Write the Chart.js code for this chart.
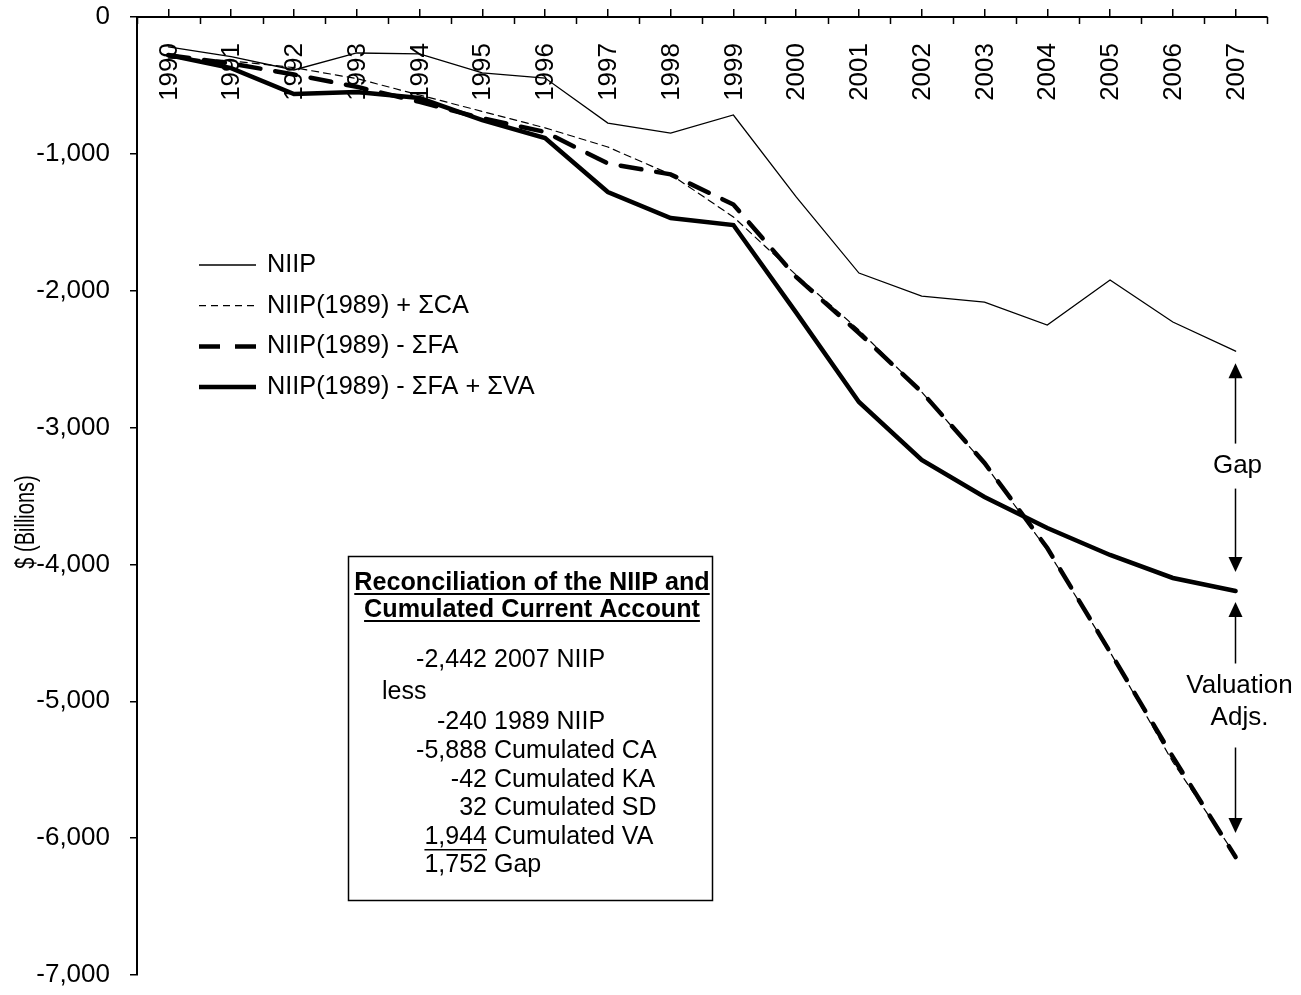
<!DOCTYPE html>
<html>
<head>
<meta charset="utf-8">
<script src="https://cdn.jsdelivr.net/npm/chart.js@4.4.1/dist/chart.umd.min.js"></script>
<style>
  html, body { margin: 0; padding: 0; background: #fff; }
  #wrap { width: 1301px; height: 995px; }
</style>
</head>
<body>
<div id="wrap"><canvas id="niipChart" width="1301" height="995"></canvas></div>
<script>
// Data ($ billions)
const years = ['1990', '1991', '1992', '1993', '1994', '1995', '1996', '1997', '1998',
               '1999', '2000', '2001', '2002', '2003', '2004', '2005', '2006', '2007'];
const niip = [-219, -290, -387, -263, -270, -409, -446, -775, -848,
              -716, -1315, -1871, -2039, -2083, -2251, -1922, -2229, -2442];
const niipPlusCA = [-300, -320, -370, -450, -570, -690, -810, -950, -1150,
                    -1461, -1885, -2287, -2740, -3266, -3895, -4640, -5444, -6128];
const niipMinusFA = [-280, -340, -420, -510, -620, -740, -840, -1070, -1150,
                     -1370, -1900, -2309, -2740, -3259, -3880, -4640, -5407, -6138];
const niipMinusFAPlusVA = [-278, -373, -563, -548, -592, -753, -884, -1279, -1469,
                           -1520, -2160, -2813, -3237, -3507, -3734, -3931, -4099, -4194];

const seriesLabels = ['NIIP', 'NIIP(1989) + \u03A3CA', 'NIIP(1989) - \u03A3FA', 'NIIP(1989) - \u03A3FA + \u03A3VA'];
const yMin = -7000, yMax = 0, yStep = 1000;

const reconTitle = ['Reconciliation of the NIIP and', 'Cumulated Current Account'];
const reconValues = [-2442, null, -240, -5888, -42, 32, 1944, 1752];
const reconLabels = ['2007 NIIP', 'less', '1989 NIIP', 'Cumulated CA', 'Cumulated KA',
                     'Cumulated SD', 'Cumulated VA', 'Gap'];

const gapLabel = ['Gap'];
const vaLabel = ['Valuation', 'Adjs.'];
const yTitle = '$ (Billions)';

const FONT = 'Arial, "Liberation Sans", sans-serif';
const fmt = v => v.toLocaleString('en-US');

const overlay = {
    id: 'overlay',
    afterDraw(chart) {
        const { ctx, chartArea, scales: { x, y } } = chart;
        ctx.save();
        ctx.fillStyle = '#000';
        ctx.strokeStyle = '#000';

        // inner half of the crossing ticks on the top axis
        ctx.lineWidth = 1.5;
        ctx.beginPath();
        for (let i = 0; i <= years.length; i++) {
            const px = Math.round(x.getPixelForValue(i - 0.5)) + 0.5;
            ctx.moveTo(px, chartArea.top);
            ctx.lineTo(px, chartArea.top + 7);
        }
        ctx.stroke();

        // rotated year labels under the axis line
        ctx.font = `26px ${FONT}`;
        ctx.textAlign = 'right';
        ctx.textBaseline = 'middle';
        years.forEach((yr, i) => {
            ctx.save();
            ctx.translate(x.getPixelForValue(i) + 1, chartArea.top + 26);
            ctx.rotate(-Math.PI / 2);
            ctx.fillText(yr, 0, 0);
            ctx.restore();
        });

        // y axis title (narrow)
        ctx.save();
        ctx.translate(27, 522);
        ctx.rotate(-Math.PI / 2);
        ctx.scale(0.74, 1);
        ctx.textAlign = 'center';
        ctx.font = `27px ${FONT}`;
        ctx.fillText(yTitle, 0, 0);
        ctx.restore();

        // legend
        chart.data.datasets.forEach((ds, i) => {
            const ly = 265 + i * 40.7;
            ctx.save();
            ctx.lineWidth = ds.borderWidth;
            ctx.setLineDash(ds.borderDash || []);
            ctx.beginPath();
            ctx.moveTo(199, ly);
            ctx.lineTo(256, ly);
            ctx.stroke();
            ctx.restore();
            ctx.textAlign = 'left';
            ctx.font = `25.3px ${FONT}`;
            ctx.fillText(ds.label, 267, ly);
        });

        // reconciliation box
        ctx.lineWidth = 1.5;
        ctx.strokeRect(348.5, 556.5, 364, 344);
        ctx.font = `bold 25.2px ${FONT}`;
        ctx.textAlign = 'center';
        reconTitle.forEach((t, i) => {
            const ty = 583 + i * 27;
            ctx.fillText(t, 532, ty);
            const w = ctx.measureText(t).width;
            ctx.fillRect(532 - w / 2, ty + 10, w, 2);
        });
        const rowY = [660, 692, 722, 751, 780, 808, 837, 865];
        ctx.font = `25px ${FONT}`;
        reconLabels.forEach((lab, i) => {
            const v = reconValues[i];
            if (v === null) {
                ctx.textAlign = 'left';
                ctx.fillText(lab, 382, rowY[i]);
                return;
            }
            ctx.textAlign = 'right';
            ctx.fillText(fmt(v), 487, rowY[i]);
            ctx.textAlign = 'left';
            ctx.fillText(lab, 494, rowY[i]);
        });
        // rule under the last added item
        const wv = ctx.measureText(fmt(reconValues[6])).width;
        ctx.fillRect(487 - wv, rowY[6] + 12, wv, 1.5);

        // gap / valuation arrows at the last year
        const last = years.length - 1;
        const xa = Math.round(x.getPixelForValue(last)) - 0.5;
        const yN = y.getPixelForValue(niip[last]);
        const yV = y.getPixelForValue(niipMinusFAPlusVA[last]);
        const yF = y.getPixelForValue(niipMinusFA[last]);

        const head = (tipY, dir) => {
            ctx.beginPath();
            ctx.moveTo(xa, tipY);
            ctx.lineTo(xa - 7, tipY + dir * 15);
            ctx.lineTo(xa + 7, tipY + dir * 15);
            ctx.closePath();
            ctx.fill();
        };
        const shaft = (a, b) => {
            ctx.beginPath();
            ctx.moveTo(xa, a);
            ctx.lineTo(xa, b);
            ctx.stroke();
        };
        ctx.lineWidth = 1.5;
        ctx.textAlign = 'center';
        ctx.font = `26px ${FONT}`;

        const t1 = yN + 12, b1 = yV - 19, m1 = (t1 + b1) / 2;
        head(t1, 1); head(b1, -1);
        shaft(t1 + 10, m1 - 24);
        shaft(m1 + 21, b1 - 10);
        ctx.fillText(gapLabel[0], xa + 2, m1 - 2);

        const t2 = yV + 11, b2 = yF - 24, m2 = (t2 + b2) / 2;
        head(t2, 1); head(b2, -1);
        shaft(t2 + 10, m2 - 54);
        shaft(m2 + 30, b2 - 10);
        vaLabel.forEach((t, i) => ctx.fillText(t, xa + 4, m2 - 32 + i * 32));

        ctx.restore();
    }
};

const ctx = document.getElementById('niipChart').getContext('2d');
new Chart(ctx, {
    type: 'line',
    data: {
        labels: years,
        datasets: [
            { label: seriesLabels[0], data: niip, borderColor: '#000', borderWidth: 1.3 },
            { label: seriesLabels[1], data: niipPlusCA, borderColor: '#000', borderWidth: 1.2, borderDash: [7, 5] },
            { label: seriesLabels[2], data: niipMinusFA, borderColor: '#000', borderWidth: 4.5, borderDash: [21, 15] },
            { label: seriesLabels[3], data: niipMinusFAPlusVA, borderColor: '#000', borderWidth: 4.5 }
        ]
    },
    options: {
        responsive: false,
        devicePixelRatio: 1,
        animation: false,
        layout: { padding: { top: 9, right: 34, bottom: 20, left: 0 } },
        elements: { point: { radius: 0 }, line: { tension: 0, borderCapStyle: 'round' } },
        plugins: { legend: { display: false }, tooltip: { enabled: false } },
        scales: {
            x: {
                position: 'top',
                offset: true,
                grid: { drawOnChartArea: false, tickLength: 8, color: '#000', lineWidth: 1.5 },
                border: { color: '#000', width: 2 },
                ticks: { display: false },
                afterFit(s) { s.paddingLeft = 0; s.paddingRight = 0; }
            },
            y: {
                min: yMin,
                max: yMax,
                ticks: {
                    stepSize: yStep,
                    color: '#000',
                    padding: 20,
                    font: { family: FONT, size: 26 },
                    callback: v => fmt(v)
                },
                grid: { drawOnChartArea: false, tickLength: 7, color: '#000', lineWidth: 1.5 },
                border: { color: '#000', width: 2 },
                afterFit(s) { s.width = 137; s.paddingTop = 0; s.paddingBottom = 0; }
            }
        }
    },
    plugins: [overlay]
});
</script>
</body>
</html>
